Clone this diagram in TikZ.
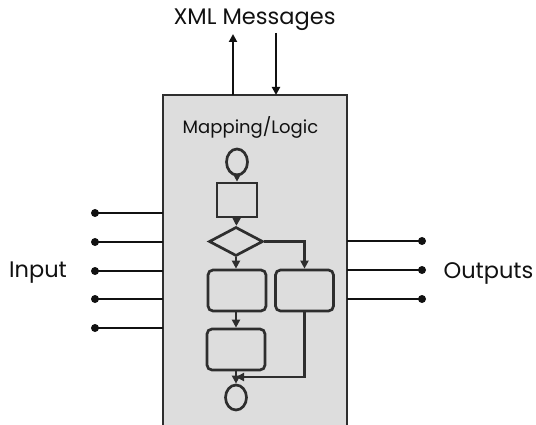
\documentclass[tikz,border=0pt]{standalone}
\usepackage{fontspec}
\setmainfont{Poppins}
\usetikzlibrary{arrows.meta,shapes.geometric}
\definecolor{panel}{HTML}{DDDDDD}
\definecolor{ink}{HTML}{111111}
\definecolor{flow}{HTML}{2E2E2E}
\tikzset{
  wire/.style={draw=ink,line width=2.8pt},
  pin/.style={circle,fill=ink,inner sep=0pt,minimum size=8pt},
  tip/.style={-{Triangle[length=8pt,width=8pt]}},
  fl/.style={draw=flow,line width=2.7pt},
  step box/.style={fl,rectangle,inner sep=0pt,minimum width=40pt,minimum height=34pt},
  act box/.style={fl,rectangle,rounded corners=5pt,inner sep=0pt,minimum width=58pt,minimum height=41pt},
  term/.style={fl,ellipse,inner sep=0pt,minimum width=21pt,minimum height=26pt},
  choice/.style={fl,diamond,inner sep=0pt,minimum width=54pt,minimum height=29pt,aspect=1.86},
  label/.style={font=\fontsize{22.5}{25}\selectfont,text=ink},
}
\begin{document}
\begin{tikzpicture}[x=1pt,y=-1pt]
\useasboundingbox (0,0) rectangle (536,425);
% logic block (runs past the lower edge)
\fill[panel] (163,95) rectangle (347,425);
\draw[draw=flow,line width=2.7pt] (163,425) -- (163,95) -- (347,95) -- (347,425);
\coordinate (blkL) at (163,0);
\coordinate (blkR) at (347,0);
\node[font=\fontsize{18}{20}\selectfont,text=ink] (title) at (250.5,127) {Mapping/Logic};

% XML message arrows
\node[label] (xml) at (254.5,20) {XML Messages};
\coordinate (upA) at (233,95);
\coordinate (upB) at (233,34);
\coordinate (dnA) at (276,33);
\coordinate (dnB) at (276,95);
\draw[wire,tip] (upA) -- (upB);
\draw[wire,tip] (dnA) -- (dnB);

% inputs
\node[label] (in) at (38,273) {Input};
\foreach \y [count=\i] in {213,242,271,299,328}{
  \node[pin] (i\i) at (95,\y) {};
  \draw[wire] (i\i.center) -- (blkL |- i\i);
}
% outputs
\node[label] (out) at (488.5,273) {Outputs};
\foreach \y [count=\i] in {241,270,299}{
  \node[pin] (o\i) at (422,\y) {};
  \draw[wire] (blkR |- o\i) -- (o\i.center);
}

% flowchart
\node[term] (start) at (237,162) {};
\node[step box] (sq) at (237,200) {};
\node[choice] (dec) at (236,241.5) {};
\node[act box] (a1) at (237,290.5) {};
\node[act box] (a2) at (304.5,290.5) {};
\node[act box] (a3) at (236,349.5) {};
\node[term,minimum height=25pt] (stop) at (236,397.5) {};
\coordinate (join) at (236,377);
\begin{scope}[fl,tip]
\draw (start) -- (sq);
\draw (sq) -- (dec);
\draw (dec.south) -- (dec.south |- a1.north);
\draw (dec.east) -| (a2.north);
\draw (a1.south -| a3.north) -- (a3.north);
\draw (a3.south) -- (stop.north);
\draw (a2.south) |- (join);
\end{scope}
\end{tikzpicture}
\end{document}
